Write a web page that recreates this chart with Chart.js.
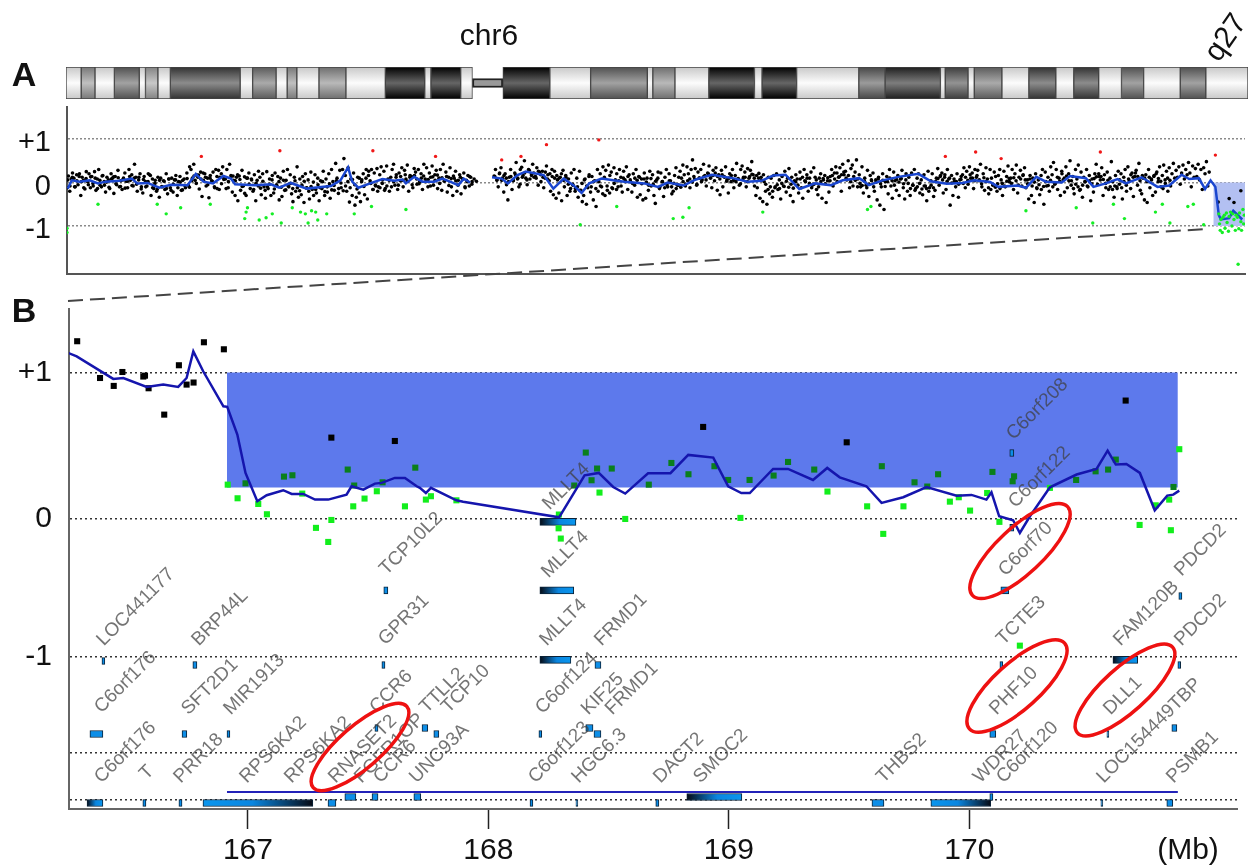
<!DOCTYPE html>
<html lang="en">
<head>
<meta charset="UTF-8">
<title>chr6 q27 deletion</title>
<script src="https://cdn.jsdelivr.net/npm/chart.js"></script>
<style>
  body { margin: 0; background: #fff; overflow: hidden; font-family: "Liberation Sans", Arial, sans-serif; color: #111; }
  canvas { position: absolute; left: 0; }
  .txt { position: absolute; line-height: 1; font-size: 30px; white-space: nowrap; transform: translate(-50%, -50%); }
  .panel { font-size: 34px; font-weight: bold; }
  svg { position: absolute; left: 0; top: 0; pointer-events: none; }
</style>
</head>
<body>
<canvas id="ideogram" width="1249" height="46" style="top:60px"></canvas>
<canvas id="panelA" width="1249" height="190" style="top:100px"></canvas>
<canvas id="panelB" width="1249" height="566" style="top:300px"></canvas>
<svg width="1249" height="866">
  <line x1="68" y1="301" x2="1206" y2="229" stroke="#444" stroke-width="2" stroke-dasharray="15 7"/>
  <g fill="none" stroke="#ee1111" stroke-width="3.5">
    <ellipse cx="360" cy="747" rx="62" ry="21" transform="rotate(-41 360 747)"/>
    <ellipse cx="1020" cy="551" rx="65" ry="23" transform="rotate(-43 1020 551)"/>
    <ellipse cx="1017" cy="686" rx="64" ry="23" transform="rotate(-42 1017 686)"/>
    <ellipse cx="1125" cy="690" rx="64" ry="22" transform="rotate(-42 1125 690)"/>
  </g>
</svg>
<div class="txt panel" style="left:24px;top:74px">A</div>
<div class="txt panel" style="left:24px;top:310px">B</div>
<div class="txt" style="left:489px;top:35px">chr6</div>
<div class="txt" style="left:1225px;top:37px;transform:translate(-50%,-50%) rotate(-55deg)">q27</div>
<div class="txt" style="left:1188px;top:849px">(Mb)</div>

<script>
// ideogram (Mb along chr6)
const bandEdges = [0,2.2,4.2,7,10.6,11.5,13.3,15.1,25.2,27,30.4,32,33.4,36.6,40.5,46.2,51.9,52.8,57.1,58.8,
  63.2,70,75.9,84.1,84.9,88.1,93,99.6,100.7,105.7,114.7,118.5,126.5,127.2,130.5,131.4,135.4,139.3,143.2,145.8,149.4,152.7,155.9,161.2,164.9,171];
const bandStain = [0,.4,0,.6,0,.35,0,.75,0,.55,0,.4,0,.45,0,1,0,1,0,
  null,1,0,.6,0,.45,0,1,0,1,0,.65,.85,0,.7,0,.55,0,.75,0,.75,0,.6,0,.6,0];
const centromereMb = [58.8, 63.2];

// panel A: array probes, five per Mb
const cloudArmP = [
  [-.12,.15,-.2,.08,.22],[.1,-.1,.18,-.05,.2],[-.3,.12,.05,-.15,.25],[.02,.2,-.12,.14,-.08],[.25,-.18,.08,.3,-.06],
  [-.1,.16,.02,-.22,.12],[.06,-.14,.2,.1,-.25],[.14,-.05,.28,-.1,.04],[-.16,.1,.22,.03,-.12],[.3,.05,.18,-.08,.42],
  [.12,-.2,.06,.2,-.1],[-.24,.14,.02,-.08,.2],[.18,-.3,.08,-.14,.05],[-.2,.12,-.34,.1,-.1],[.04,-.16,.2,-.26,.08],
  [-.12,.1,-.22,.06,.16],[-.3,.02,.14,-.18,.05],[.08,-.12,.22,-.06,.36],[.3,.1,.42,.05,.18],[.12,-.15,.24,-.32,.05],
  [.2,-.08,.1,-.35,.16],[.04,.24,-.1,.3,-.14],[.28,.12,.2,.36,.1],[.08,.3,-.12,.42,.16],[-.22,.05,-.3,.12,-.42],
  [.15,-.18,.28,-.08,-.25],[-.3,.1,.22,-.14,.06],[-.2,.18,-.42,.05,.26],[.12,-.28,.2,-.1,-.36],[.25,-.14,.08,-.3,.16],
  [-.24,.22,-.06,.14,-.4],[.1,-.32,.26,-.18,.05],[.3,-.1,.18,-.26,-.44],[.12,-.2,.36,-.34,.08],[-.28,.14,-.46,.2,-.12],
  [.06,-.38,.24,-.16,-.3],[.18,-.24,.1,-.42,.04],[-.14,.26,-.3,.08,-.22],[.2,-.36,.3,.02,-.18],[.44,.1,-.25,.28,-.12],
  [.3,.55,.16,-.2,.34],[-.45,.08,-.3,.22,-.52],[-.34,.12,-.24,-.44,.06],[.2,-.28,.1,-.38,.26],[.04,.3,-.16,.22,-.08],
  [.32,-.1,.18,.36,.06],[.26,-.14,.38,.08,-.2],[.12,.3,.42,-.06,.18],[-.16,.22,.04,.34,-.1],[.28,.08,.4,-.2,.16],
  [.14,-.12,.32,.24,-.04],[.3,.02,.2,-.16,.42],[.08,.34,-.1,.22,.12],[.38,-.06,.18,.28,-.14],[.1,.3,-.18,.42,.04],
  [.24,-.22,.12,.34,-.1],[-.3,.1,.26,-.2,.05],[.18,-.26,.08,.22,-.12],[.05,.16,-.08,.12,.02]
];
const cloudArmQ = [
  [.15,.3,.05,-.1,.22],[.34,.1,-.22,.2,-.05],[-.4,.12,.3,-.16,.04],[.22,.46,.08,-.1,.3],[.35,.16,.5,.1,-.05],
  [.3,.08,.2,.42,.12],[.14,.34,-.06,.24,.02],[.26,-.12,.1,.38,.18],[.04,-.2,.3,-.28,.1],[-.36,.06,-.24,.12,-.42],
  [.28,-.1,.16,-.3,.08],[-.2,.22,-.04,.3,-.14],[.1,-.34,.26,-.18,-.44],[-.3,.08,-.5,-.12,.18],[-.22,.14,-.4,.04,-.55],
  [.3,.02,.2,-.1,.36],[.12,.28,-.08,.4,.16],[.24,-.14,.34,.06,.2],[-.1,.3,.12,-.22,.26],[.06,.36,-.16,.18,.02],
  [-.22,.2,-.06,.3,-.34],[.14,-.28,.08,-.4,.22],[-.36,.1,-.18,.26,-.08],[.18,-.3,-.48,.06,.24],[-.14,.22,.02,-.32,.12],
  [.3,-.1,.2,.04,-.26],[-.2,.16,.34,-.06,.12],[.26,.1,.4,.18,-.04],[.36,.2,.08,.3,.52],[.14,.32,-.06,.24,.1],
  [.3,.06,.42,.16,-.08],[.22,.38,.1,-.12,.28],[.04,.34,-.18,.18,-.28],[.28,-.1,.14,.36,.06],[-.24,.2,.02,.3,-.12],
  [.16,.44,.08,-.06,.3],[.38,.12,.24,-.1,.32],[.1,.28,.48,.18,-.08],[-.3,-.12,.1,-.36,.05],[-.44,.02,-.2,-.5,.12],
  [-.26,.1,-.34,.16,-.1],[.2,-.16,.06,-.38,.14],[-.08,.26,-.22,.1,.32],[-.3,.12,-.44,.04,.18],[.08,-.24,.24,-.12,-.36],
  [.3,.02,.18,-.2,.1],[.24,-.06,.34,.12,-.16],[-.28,.1,.2,-.36,.06],[.16,-.46,.04,-.22,.14],[.3,-.08,.22,.36,.02],
  [.12,.34,-.2,.42,.18],[.26,.06,.5,-.12,.32],[.4,.14,.24,.52,.08],[.18,-.1,.36,-.24,.1],[-.06,.28,-.32,.16,.04],
  [.22,-.2,.06,-.4,.12],[-.52,-.1,.2,-.62,.02],[.14,-.26,.3,-.08,-.36],[.24,.04,-.18,.16,-.3],[.08,.28,-.12,-.38,.2],
  [-.2,.12,-.3,.22,-.06],[.3,-.14,.1,.2,-.24],[.06,-.28,.18,-.08,-.42],[.26,-.12,.04,.2,-.32],[-.18,.1,.32,-.06,.16],
  [.22,-.24,.12,-.16,.3],[.08,-.52,.16,-.3,.02],[-.1,.2,-.34,.06,.14],[.18,.34,-.12,.26,-.04],[.36,.1,.22,-.14,.3],
  [.12,.28,.04,.42,-.1],[.2,-.18,.34,.08,-.26],[.3,.1,-.06,.24,.14],[-.2,.16,.3,.06,-.3],[.26,-.1,.14,.38,.02],
  [.1,.3,-.16,.2,.4],[-.24,.12,.28,-.08,.18],[.34,-.12,.06,-.38,.16],[-.3,.1,-.46,.2,-.14],[.06,-.28,.16,.3,-.5],
  [.24,-.08,.12,-.2,.36],[.18,.46,-.04,.3,-.16],[.1,-.3,.26,.06,-.22],[.36,-.12,.2,.5,.04],[.14,-.26,.3,.08,.4],
  [-.18,.24,-.34,.12,.02],[.3,-.1,.16,-.42,.08],[-.22,.2,.42,-.04,.14],[.06,.34,-.3,.18,-.12],[.24,-.16,.1,.48,.02],
  [-.34,.16,-.1,.26,.06],[.2,-.38,.12,.3,-.2],[.36,.04,-.14,.22,-.32],[.14,.28,-.06,.44,-.18],[-.26,.1,-.4,.18,-.46],
  [.3,-.12,.08,-.3,.16],[-.22,.24,.02,.36,-.1],[.16,.4,.06,.26,-.2],[.34,-.08,.2,.44,.1],[.28,.12,.36,-.04,.22],
  [.4,.08,.3,.18,.46],[.22,-.1,.38,.12,.32],[.14,.42,.06,.3,-.16],[.34,.2,.48,-.08,.24]
];
// the dense core of the cloud, three probes per Mb
const coreArmP = [.06,-.08,.12,-.1,.04,.14,.02,-.12,.09,-.05,.13,-.02,.1,-.14,.05,.15,-.06,.01,-.11,.08,.13,-.03,.11,-.09,.06,-.13,.03,.14,-.07,.1,
  -.04,.12,-.15,.07,-.1,.02,.16,-.12,-.02,-.16,.05,-.09,.03,-.14,.08,-.18,-.04,.06,-.12,.01,-.17,-.07,.09,-.11,.04,.15,-.02,.17,.08,.22,
  .12,-.05,.1,.03,-.12,.14,-.16,-.03,.07,-.14,.02,.11,.15,.04,.18,.07,-.09,.13,.1,-.04,.08,-.16,-.02,-.08,-.13,.03,-.18,-.1,-.04,.06,
  -.15,-.06,.02,-.11,.05,-.17,-.08,-.02,-.14,.04,-.12,-.19,-.06,.03,-.13,-.2,-.09,.01,-.16,-.05,-.12,.02,-.21,-.1,-.03,-.17,-.07,.04,
  -.14,-.01,-.19,-.08,.02,-.12,.07,-.05,-.15,.1,.02,-.09,.3,.16,-.02,-.16,-.06,-.2,-.12,-.02,-.18,-.08,.05,-.1,.02,.12,-.06,.14,.05,.18,
  .03,.12,-.05,.16,.08,-.03,.1,.15,.02,.07,-.08,.13,.05,.17,-.02,.11,.03,.14,-.07,.09,.15,.04,-.06,.12,.08,-.1,.02,.14,-.04,.08,.03];
const coreArmQ = [.14,.08,.2,.05,.16,.1,.02,.14,.07,.18,.1,-.04,.12,.22,.06,.28,.16,.22,.1,.26,.18,.12,.24,.08,.2,.14,.26,.16,.1,.2,
  .05,.12,-.04,-.14,-.06,-.2,-.1,-.18,-.02,.06,-.08,.14,-.1,.02,-.14,-.2,-.08,-.26,-.3,-.18,-.24,-.12,-.02,-.16,.04,-.08,.1,.02,.14,.06,
  -.02,.1,.05,.12,-.03,.08,.01,-.06,.09,-.04,.03,.1,-.09,.02,-.12,-.05,.04,-.1,-.02,-.14,-.06,-.11,.02,-.08,.04,-.12,.01,.08,-.04,.1,
  .02,.14,.06,.2,.11,.16,.22,.14,.08,.18,.12,.03,.1,.16,.05,.02,.09,-.03,.07,.12,.02,.14,.19,.1,.16,.21,.12,.18,-.04,-.16,-.1,-.2,
  -.12,-.05,-.14,-.02,-.09,.03,-.11,-.04,-.13,.02,-.06,.08,.12,.04,.1,-.02,-.12,-.04,.06,-.1,.02,.09,-.03,.11,.04,.16,.08,.22,.13,.18,
  .24,.1,.16,.02,-.08,.05,-.1,-.02,-.07,.03,-.12,-.04,.06,-.1,.01,.08,-.03,.05,-.09,.02,.1,.04,-.06,.07,.01,.09,-.03,.06,-.02,-.14,
  -.06,-.18,-.1,-.02,-.15,-.08,-.14,-.2,-.06,-.12,.02,.09,.14,.06,.18,.03,.1,-.01,.08,.02,-.04,.07,-.02,.12,.05,.18,.1,.04,.16,.06,
  -.03,.11,.02,-.12,-.16,-.05,-.11,-.03,-.14,-.02,-.08,.03,.09,-.02,.11,.04,-.06,.08,.16,.06,-.03,.08,-.08,.01,-.12,-.05,-.16,-.09,.02,-.07,
  .05,-.1,-.02,.12,.03,.2,.1,.15,.04,-.06,-.14,-.04,-.1,-.16,-.06,.02,-.08,.04,-.03,.09,.13,.2,.14,.07,-.02,.05,-.1,-.16,-.08,-.14,
  -.04,-.12,.02,-.06,.08,.18,.12,.22,.14,.04,.16,.1,.02,.12,.06,.14,.2,.09,.03,-.14,-.02,.1,.05];
const armStartMb = [0, 62];
const shadeBlackMb = [167.1, 168.7, 169.4, 170.4];
const shadeBlackLog = [-.45, -.37, -.46, -.19];

const smoothMbA = [.1,.7,1.8,3.3,4.5,5.6,7.6,9.4,10.2,11.7,13.4,15.1,17.5,18.7,19.8,21.2,22.7,23.8,24.4,27.3,29.6,30.8,32.5,34.8,38.3,39.7,40.8,41.4,42.3,44,45.8,47.5,48.7,49.2,50.4,51.6,53.3,54.5,55.6,56.8,57.6,58.5,
  null,61.7,63.1,64,65.4,66.6,69.2,70.6,72.1,73.5,74.7,75.8,77.6,79.3,80.9,83.8,85.8,87.2,89.5,91.3,93.6,97,98.8,100.8,102.5,104.3,106.3,108.6,110.9,112.6,115,116.4,118.4,120.7,123.6,125.4,127.7,130,131.7,134,135.2,138,139.2,140.7,142.1,144.4,145.6,147.9,149,150.8,152.5,153.7,156,158.3,160,161.8,162.9,164.3,165.2,166,166.7,167.2,167.5,168.7,169.3,170.6];
const smoothLogA = [-.14,.05,.02,.05,-.02,.02,.04,.09,-.02,-.01,-.12,-.05,-.06,.2,.02,-.02,.15,.09,-.04,-.06,-.04,-.12,-.01,-.14,-.08,.05,.35,.02,-.12,-.02,.08,.04,.07,-.02,.13,.02,.02,.09,.02,-.06,.09,0,
  null,.12,.09,-.02,.17,.25,.17,-.14,.09,-.06,-.24,-.02,.09,.05,.02,-.02,-.1,0,-.07,.07,.18,.09,.02,.04,.16,.18,-.15,-.02,-.06,.05,.1,-.06,.05,.13,.2,.03,-.03,-.01,.05,.01,-.1,-.07,-.12,.13,.02,0,.15,.1,-.1,-.02,.08,-.02,.12,-.1,-.07,.18,.08,.1,-.15,.05,-.1,-.75,-.85,-.82,-.65,-.85];

const gainMbA = [19.5,30.9,44.4,53.5,63.1,65.9,69.6,77.2,127.5,131.9,135.6,150,166.7];
const gainLogA = [.6,.73,.73,.6,.52,.6,.87,.98,.6,.7,.55,.7,.63];
const lossMbA = [0,0,4.5,13.1,14.4,16.5,20.8,26.2,26,25.8,27.9,28.9,29.8,31.1,32.7,33.9,34.6,35.5,36.1,36.4,35,37.7,41.7,44.2,49.2,74.5,79.8,88,89.4,90.3,101,116.2,116.7,139.2,146.5,148.9,151.9,153.5,158,159,160.1,162.7,163.5,165,
  167.2,167.3,167.4,167.5,167.7,167.8,168,168.1,168.3,168.4,168.6,168.7,168.9,169.1,169.2,169.4,169.6,169.7,169.9,170.1,170.2,170.4,170.5,170.7,170.8,170.9,170];
const lossLogA = [-1.15,-1.05,-.5,-.5,-.72,-.58,-.5,-.58,-.68,-.83,-.86,-.81,-.72,-.93,-.58,-.68,-.72,-.65,-.68,-.86,-.93,-.72,-.72,-.55,-.62,-.97,-.55,-.83,-.8,-.58,-.68,-.62,-.55,-.65,-.58,-.93,-.5,-.83,-.68,-.5,-.93,-.55,-.5,-.97,
  -.72,-.95,-1.1,-.85,-1.15,-.8,-.75,-1.05,-.7,-.92,-1.12,-.78,-.68,-1,-.72,-.85,-1.1,-.75,-.8,-1.06,-.7,-.9,-1.1,-.62,-.95,-.75,-1.88];
const regionMbA = [166.4, 171];

// panel B: probes in the zoomed region
const normalMb = [166.29,166.385,166.442,166.478,166.565,166.572,166.587,166.652,166.713,166.745,166.774,166.817,166.9,167.347,167.611,168.893,169.49,170.65];
const normalLog = [1.213,.962,.908,1.003,.972,.978,.892,.712,1.049,.917,.931,1.206,1.158,.555,.532,.628,.523,.808];
const lossInBandMb = [166.99,167.15,167.185,167.415,167.442,167.56,167.696,168.357,168.405,168.429,168.452,168.513,168.667,168.761,168.832,168.94,168.997,169.086,169.186,169.246,169.355,169.636,169.772,169.825,169.87,170.096,170.18,170.186,170.444,170.525,170.577,170.609,170.849];
const lossInBandLog = [.243,.289,.298,.337,.228,.25,.35,.228,.453,.264,.344,.344,.234,.382,.305,.36,.266,.266,.296,.389,.337,.36,.25,.221,.305,.321,.257,.291,.266,.325,.337,.405,.218];
const lossBelowMb = [166.916,166.957,167.043,167.079,167.226,167.283,167.334,167.347,167.438,167.485,167.536,167.653,167.74,167.761,167.867,168.293,168.292,168.301,168.462,168.569,169.048,169.41,169.575,169.642,169.726,169.919,169.956,170.003,170.074,170.125,170.335,170.708,170.775,170.831,170.838,170.873,170.21];
const lossBelowLog = [.234,.141,.102,.032,.173,-.061,-.157,-.007,.086,.139,.189,.086,.132,.155,.127,.03,-.064,-.134,.18,0,.007,.187,.086,-.102,.086,.118,.148,.057,.177,-.02,.212,-.041,.093,.132,-.077,.476,-.865];

const smoothMbB = [166.253,166.288,166.44,166.482,166.579,166.648,166.71,166.745,166.773,166.814,166.898,166.914,166.956,166.99,167.039,167.078,167.147,167.182,167.23,167.279,167.334,167.41,167.431,167.48,167.528,167.556,167.611,167.653,167.702,167.715,167.74,167.761,167.867,167.895,168.294,168.4,168.459,168.519,168.569,168.664,168.757,168.831,168.935,168.997,169.052,169.087,169.184,169.246,169.35,169.409,169.461,169.489,169.572,169.635,169.725,169.822,169.947,170.009,170.071,170.092,170.124,170.182,170.21,170.252,170.335,170.446,170.529,170.575,170.609,170.653,170.709,170.771,170.823,170.848,170.873];
const smoothLogB = [1.133,1.11,.956,.962,.901,.917,.901,.962,1.144,1.008,.769,.765,.576,.314,.121,.162,.196,.171,.171,.132,.132,.166,.223,.2,.241,.246,.28,.28,.223,.212,.177,.212,.127,.118,.011,.298,.314,.218,.173,.312,.312,.437,.419,.223,.177,.177,.341,.341,.266,.348,.284,.268,.223,.109,.148,.218,.159,.164,.132,.182,.018,-.009,-.096,.018,.216,.303,.341,.466,.371,.375,.314,.059,.159,.166,.193];
const regionMbB = [166.913, 170.867];
const regionLogB = [.215, 1];
const trackMbB = [166.913, 170.867];
const trackLogB = -1.864;

// genes: start > end means minus strand
const geneStart = [168.364,167.565,168.355,170.131,170.871,168.343,170.7,166.393,166.771,167.557,168.443,170.127,170.867,166.397,166.726,166.913,167.773,168.21,168.439,170.085,170.572,167.528,167.724,168.405,170.842,166.397,166.563,166.713,166.813,167.333,168.173,168.364,168.696,169.595,169.84,170.547,170.821,167.403,167.516,167.69,169.054,170.085,170.168,170.168];
const geneEnd = [168.214,167.582,168.214,170.164,170.884,168.214,170.597,166.405,166.788,167.57,168.468,170.139,170.879,166.343,166.746,166.925,167.794,168.222,168.468,170.11,170.58,167.541,167.748,168.435,170.863,166.331,166.576,166.726,167.27,167.366,168.185,168.372,168.709,169.645,170.089,170.555,170.846,167.449,167.541,167.719,168.825,170.098,170.185,170.185];
const geneLog = [-.02,-.488,-.488,-.488,-.526,-.962,-.962,-.97,-.997,-.997,-.997,-.997,-.997,-1.468,-1.468,-1.468,-1.468,-1.468,-1.468,-1.468,-1.468,-1.427,-1.427,-1.427,-1.427,-1.939,-1.939,-1.939,-1.939,-1.939,-1.939,-1.939,-1.939,-1.939,-1.939,-1.939,-1.939,-1.898,-1.898,-1.898,-1.898,-1.898,.45,-.06];

const labelNames = ['LOC441177','BRP44L','C6orf176','SFT2D1','MIR1913','CCR6','GPR31','C6orf176','T','PRR18','RPS6KA2','RPS6KA2','RNASET2','FGFR1OP','CCR6','UNC93A','TTLL2','TCP10','C6orf124','KIF25','FRMD1','MLLT4','FRMD1','C6orf123','HGC6.3','DACT2','SMOC2','THBS2','WDR27','C6orf120','LOC154449TBP','PSMB1','TCTE3','FAM120B','PDCD2','PHF10','DLL1','C6orf208','C6orf122','C6orf70','PDCD2','MLLT4','MLLT4','TCP10L2'];
const labelMb = [166.385,166.78,166.376,166.738,166.913,167.52,167.557,166.376,166.563,166.705,166.98,167.166,167.349,167.457,167.536,167.686,167.728,167.819,168.21,168.4,168.5,168.227,168.455,168.18,168.36,168.7,168.867,169.628,170.03,170.127,170.543,170.834,170.127,170.613,170.867,170.098,170.572,170.168,170.177,170.135,170.867,168.239,168.235,167.561];
const labelLog = [-.846,-.846,-1.304,-1.317,-1.317,-1.304,-.84,-1.782,-1.76,-1.782,-1.782,-1.782,-1.782,-1.782,-1.782,-1.782,-1.304,-1.304,-1.31,-1.317,-1.317,-.846,-.846,-1.782,-1.782,-1.782,-1.782,-1.782,-1.782,-1.782,-1.782,-1.782,-.84,-.846,-.846,-1.317,-1.317,.56,.096,-.369,-.369,.082,-.382,-.362];

const tickMb = [167, 168, 169, 170];
const gridA = [1, 0, -1];
const gridB = [1, 0, -.942, -1.597, -1.918];
const gridLabelsB = ['+1', '0', '-1', '', ''];

Chart.defaults.font.family = '"Liberation Sans", Arial, sans-serif';
Chart.defaults.animation = false;
Chart.defaults.devicePixelRatio = 1;
Chart.defaults.responsive = false;
Chart.defaults.plugins.legend.display = false;
Chart.defaults.plugins.tooltip.enabled = false;

const zip = (xs, ys) => xs.map((x, i) => ({ x: x, y: ys[i] }));

// keep the plot box where we put it, whatever the tick labels want
function fixBox(width, height) {
  return s => {
    if (width !== null) s.width = width;
    if (height !== null) s.height = height;
    s.paddingTop = s.paddingBottom = s.paddingLeft = s.paddingRight = 0;
  };
}

// ideogram
function bandFill(ctx) {
  const area = ctx.chart.chartArea;
  if (!area || !ctx.raw || !isFinite(area.top)) return '#fff';
  const stain = ctx.raw.stain;
  const edge = Math.round(200 * (1 - stain)), mid = Math.round(252 - 150 * stain);
  const g = ctx.chart.ctx.createLinearGradient(0, area.top, 0, area.bottom);
  g.addColorStop(0, `rgb(${edge},${edge},${edge})`);
  g.addColorStop(0.5, `rgb(${mid},${mid},${mid})`);
  g.addColorStop(1, `rgb(${edge},${edge},${edge})`);
  return g;
}
const bands = [];
bandStain.forEach((s, i) => {
  if (s !== null) bands.push({ x: [bandEdges[i], bandEdges[i + 1]], y: 0, stain: s });
});

new Chart(document.getElementById('ideogram'), {
  type: 'scatter',
  data: { datasets: [
    { type: 'bar', indexAxis: 'y', grouped: false, data: bands, barThickness: 32, backgroundColor: bandFill, borderColor: '#444', borderWidth: 1, borderSkipped: false },
    { type: 'bar', indexAxis: 'y', grouped: false, data: [{ x: centromereMb, y: 0 }], barThickness: 9, backgroundColor: '#999', borderColor: '#222', borderWidth: 2, borderSkipped: false }
  ] },
  options: {
    layout: { padding: { left: 66, right: 1, top: 7, bottom: 7 } },
    scales: {
      x: { type: 'linear', min: 0, max: 171, display: false, offset: false },
      y: { type: 'linear', min: -1, max: 1, display: false, offset: false }
    }
  }
});

// panel A
const cloud = [];
[cloudArmP, cloudArmQ].forEach((arm, a) => arm.forEach((row, r) => row.forEach((v, i) => {
  cloud.push({ x: armStartMb[a] + r + i / row.length, y: v });
})));
[coreArmP, coreArmQ].forEach((arm, a) => arm.forEach((v, i) => {
  cloud.push({ x: armStartMb[a] + 0.1 + i / 3, y: v });
}));

new Chart(document.getElementById('panelA'), {
  type: 'scatter',
  data: { datasets: [
    { data: zip(lossMbA, lossLogA), pointRadius: 1.7, pointBackgroundColor: '#15ee25', pointBorderWidth: 0 },
    { data: zip(gainMbA, gainLogA), pointRadius: 1.7, pointBackgroundColor: '#f01818', pointBorderWidth: 0 },
    { data: zip(smoothMbA, smoothLogA), showLine: true, pointRadius: 0, borderColor: '#1a46cf', borderWidth: 2.5, spanGaps: false },
    { data: cloud.concat(zip(shadeBlackMb, shadeBlackLog)), pointRadius: 1.8, pointBackgroundColor: '#000', pointBorderWidth: 0 },
    { data: regionMbA.map(x => ({ x: x, y: 0 })), showLine: true, pointRadius: 0, borderWidth: 0, fill: { value: -1 }, backgroundColor: '#b3c0f2' }
  ] },
  options: {
    layout: { padding: { top: 7, right: 3 } },
    scales: {
      x: { type: 'linear', min: 0, max: 171, afterFit: fixBox(null, 16),
        grid: { drawOnChartArea: false, drawTicks: false }, border: { color: '#555', width: 2 }, ticks: { display: false } },
      y: { type: 'linear', min: -2.103, max: 1.736, afterFit: fixBox(67, null),
        afterBuildTicks: s => { s.ticks = gridA.map(v => ({ value: v })); },
        grid: { color: '#8a8a8a', lineWidth: 1.5, drawTicks: false },
        border: { color: '#555', width: 2, dash: [2, 2] },
        ticks: { color: '#111', font: { size: 29 }, padding: 16, labelOffset: 4, callback: v => v > 0 ? '+' + v : String(v) } }
    }
  }
});

// panel B
function geneFill(ctx) {
  const fallback = '#0c8ee8';
  if (!ctx.raw || !ctx.chart.scales.x) return fallback;
  const x = ctx.chart.scales.x;
  const a = x.getPixelForValue(ctx.raw.x[0]), b = x.getPixelForValue(ctx.raw.x[1]);
  if (!isFinite(a) || !isFinite(b) || Math.abs(b - a) < 15) return fallback;
  const g = ctx.chart.ctx.createLinearGradient(a, 0, b, 0);
  g.addColorStop(0, '#0a96ee');
  g.addColorStop(0.45, '#0a86e0');
  g.addColorStop(1, '#060a14');
  return g;
}

const geneLabels = {
  id: 'geneLabels',
  afterDatasetsDraw(chart) {
    const c = chart.ctx, x = chart.scales.x, y = chart.scales.y;
    c.save();
    c.font = '19px "Liberation Sans", Arial, sans-serif';
    c.fillStyle = 'rgba(62,62,62,0.72)';
    c.textAlign = 'left';
    c.textBaseline = 'middle';
    labelNames.forEach((name, i) => {
      c.save();
      c.translate(x.getPixelForValue(labelMb[i]), y.getPixelForValue(labelLog[i]));
      c.rotate(-Math.PI / 4);
      c.fillText(name, 0, 0);
      c.restore();
    });
    c.restore();
  }
};

const genes = geneStart.map((s, i) => ({ x: [s, geneEnd[i]], y: geneLog[i] }));

new Chart(document.getElementById('panelB'), {
  type: 'scatter',
  plugins: [geneLabels],
  data: { datasets: [
    { data: zip(smoothMbB, smoothLogB), showLine: true, pointRadius: 0, borderColor: '#1515ad', borderWidth: 2.5, tension: 0 },
    { data: trackMbB.map(x => ({ x: x, y: trackLogB })), showLine: true, pointRadius: 0, borderColor: '#2222b8', borderWidth: 2 },
    { data: zip(normalMb, normalLog), pointStyle: 'rect', pointRadius: 4.3, pointBackgroundColor: '#000', pointBorderWidth: 0 },
    { data: zip(lossBelowMb, lossBelowLog), pointStyle: 'rect', pointRadius: 4.3, pointBackgroundColor: '#12ee1c', pointBorderWidth: 0 },
    { data: zip(lossInBandMb, lossInBandLog), pointStyle: 'rect', pointRadius: 4.3, pointBackgroundColor: '#0a7f1c', pointBorderWidth: 0 },
    { type: 'bar', indexAxis: 'y', grouped: false, data: genes, barThickness: 7, backgroundColor: geneFill, borderColor: '#0a2238', borderWidth: 1, borderSkipped: false },
    { data: regionMbB.map(x => ({ x: x, y: regionLogB[1] })), showLine: true, pointRadius: 0, borderWidth: 0, fill: { value: regionLogB[0] }, backgroundColor: '#5d79ec' }
  ] },
  options: {
    layout: { padding: { top: 9, right: 12 } },
    scales: {
      x: { type: 'linear', min: 166.256, max: 171.113, offset: false, afterFit: fixBox(null, 57),
        afterBuildTicks: s => { s.ticks = tickMb.map(v => ({ value: v })); },
        grid: { drawOnChartArea: false, tickLength: 20, tickColor: '#222', tickWidth: 1.5 },
        border: { color: '#666', width: 2 },
        ticks: { color: '#111', font: { size: 30 }, padding: 4, maxRotation: 0, autoSkip: false, callback: v => String(v) } },
      y: { type: 'linear', min: -1.98, max: 1.433, offset: false, afterFit: fixBox(69, null),
        afterBuildTicks: s => { s.ticks = gridB.map(v => ({ value: v })); },
        grid: { color: '#333', lineWidth: 1.5, drawTicks: false, offset: false },
        border: { color: '#666', width: 2, dash: [2, 3] },
        ticks: { color: '#111', font: { size: 30 }, padding: 17, autoSkip: false,
          callback: v => gridLabelsB[gridB.indexOf(v)] } }
    }
  }
});
</script>
</body>
</html>
